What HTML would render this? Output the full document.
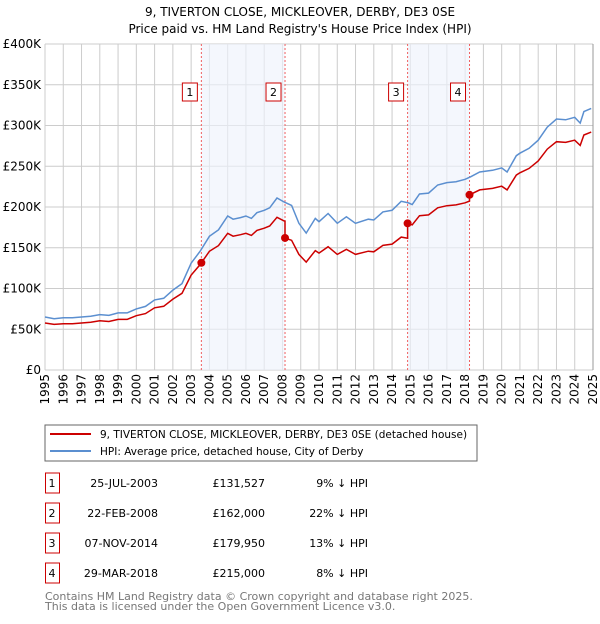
<!DOCTYPE html>
<html><head><meta charset="utf-8"><style>
body{margin:0;background:#fff;font-family:"DejaVu Sans","Liberation Sans",sans-serif;}
svg text{font-family:"DejaVu Sans","Liberation Sans",sans-serif;}
</style></head><body>
<svg id="c" width="600" height="620" viewBox="0 0 600 620" xmlns="http://www.w3.org/2000/svg">
<text x="300" y="16" text-anchor="middle" font-size="12" fill="#000">9, TIVERTON CLOSE, MICKLEOVER, DERBY, DE3 0SE</text>
<text x="300" y="33" text-anchor="middle" font-size="12" fill="#000">Price paid vs. HM Land Registry's House Price Index (HPI)</text>
<g id="grid"></g><g id="shade"></g><g id="lines"></g><g id="marks"></g><g id="axes"></g>
<rect x="45" y="425" width="432" height="36" fill="#fff" stroke="#666"/>
<line x1="50" y1="434" x2="91" y2="434" stroke="#cc0000" stroke-width="2"/>
<text x="100" y="438" font-size="10.5">9, TIVERTON CLOSE, MICKLEOVER, DERBY, DE3 0SE (detached house)</text>
<line x1="50" y1="451" x2="91" y2="451" stroke="#5b8fd0" stroke-width="2"/>
<text x="100" y="455" font-size="10.5">HPI: Average price, detached house, City of Derby</text>
<g id="table"></g>
<text x="45" y="600" font-size="11" fill="#777">Contains HM Land Registry data © Crown copyright and database right 2025.</text>
<text x="45" y="610" font-size="11" fill="#777">This data is licensed under the Open Government Licence v3.0.</text>
</svg>
<script>
const hpiYears=[1995,1995.5,1996,1996.5,1997,1997.5,1998,1998.5,1999,1999.5,2000,2000.5,2001,2001.5,2002,2002.5,2003,2003.5,2004,2004.5,2005,2005.3,2005.7,2006,2006.3,2006.6,2007,2007.3,2007.7,2008.1,2008.5,2008.9,2009.3,2009.8,2010,2010.5,2011,2011.5,2012,2012.7,2013,2013.5,2014,2014.5,2014.9,2015.1,2015.5,2016,2016.5,2017,2017.5,2018,2018.3,2018.8,2019.5,2020,2020.3,2020.8,2021,2021.5,2022,2022.5,2023,2023.5,2024,2024.3,2024.5,2024.9];
const hpiValues=[65,63,64,64,65,66,68,67,70,70,75,78,86,88,98,106,131,146,164,172,189,185,187,189,186,193,196,199,211,206,202,180,168,186,182,192,180,188,180,185,184,194,196,207,205,203,216,217,227,230,231,234,237,243,245,248,243,263,266,272,282,298,308,307,310,303,317,321];
const saleLabels=["1","2","3","4"];
const saleDates=["25-JUL-2003","22-FEB-2008","07-NOV-2014","29-MAR-2018"];
const saleYears=[2003.56,2008.14,2014.85,2018.24];
const salePrices=[131527,162000,179950,215000];
const saleDiffs=["9% \u2193 HPI","22% \u2193 HPI","13% \u2193 HPI","8% \u2193 HPI"];
const yTicks=[0,50,100,150,200,250,300,350,400];
const yTickLabels=["£0","£50K","£100K","£150K","£200K","£250K","£300K","£350K","£400K"];
const xTicks=[1995,1996,1997,1998,1999,2000,2001,2002,2003,2004,2005,2006,2007,2008,2009,2010,2011,2012,2013,2014,2015,2016,2017,2018,2019,2020,2021,2022,2023,2024,2025];

const NS="http://www.w3.org/2000/svg";
const X0=45,X1=593,Y0=370,Y1=44;
const xs=y=>X0+(y-1995)/(2025-1995)*(X1-X0);
const ys=v=>Y0-v/400*(Y0-Y1);
function mk(t,a,p){const e=document.createElementNS(NS,t);for(const k in a)e.setAttribute(k,a[k]);p.appendChild(e);return e;}
const G=id=>document.getElementById(id);
function hpiAt(y){for(let i=0;i<hpiYears.length-1;i++){if(y<=hpiYears[i+1]){const t=(y-hpiYears[i])/(hpiYears[i+1]-hpiYears[i]);return hpiValues[i]+t*(hpiValues[i+1]-hpiValues[i]);}}return hpiValues[hpiValues.length-1];}

xTicks.forEach(t=>{const l=mk('line',{x1:xs(t),x2:xs(t),y1:Y1,y2:Y0,stroke:'#ccc','stroke-width':1},G('grid'));

});
yTicks.forEach((t,i)=>{const l=mk('line',{x1:X0,x2:X1,y1:ys(t),y2:ys(t),stroke:'#ccc','stroke-width':1},G('grid'));


const tx=mk('text',{x:X0-4,y:ys(t)+4,'text-anchor':'end','font-size':12},G('axes'));tx.textContent=yTickLabels[i];

});
xTicks.forEach(t=>{const tx=mk('text',{x:0,y:0,'text-anchor':'end','font-size':12,transform:`translate(${xs(t)+4},${Y0+4}) rotate(-90)`},G('axes'));tx.textContent=t;

});

[[0,1],[2,3]].forEach(p=>{const r=mk('rect',{x:xs(saleYears[p[0]]),y:Y1,width:xs(saleYears[p[1]])-xs(saleYears[p[0]]),height:Y0-Y1,fill:'#eef3fc',opacity:0.65},G('shade'));

});
saleYears.forEach((y,i)=>{const l=mk('line',{x1:xs(y),x2:xs(y),y1:Y1,y2:Y0,stroke:'#f06060','stroke-width':1,'stroke-dasharray':'2,2'},G('shade'));


const r=mk('rect',{x:xs(y)-19,y:83,width:15,height:18,fill:'#fff',stroke:'#cc0000'},G('shade'));


const t=mk('text',{x:xs(y)-11.5,y:96,'text-anchor':'middle','font-size':11},G('shade'));t.textContent=saleLabels[i];

});

const hp=hpiYears.map((y,i)=>xs(y).toFixed(1)+','+ys(hpiValues[i]).toFixed(1)).join(' ');
const hl=mk('polyline',{points:hp,fill:'none',stroke:'#5b8fd0','stroke-width':1.5},G('lines'));


const ratios=saleYears.map((y,i)=>salePrices[i]/1000/hpiAt(y));
const pts=[];
hpiYears.forEach((y,i)=>{
  let k=0;for(let j=0;j<saleYears.length;j++)if(y>=saleYears[j])k=j;
  pts.push([y,hpiValues[i]*ratios[k]]);
});
saleYears.forEach((y,j)=>{if(j>0)pts.push([y-0.001,hpiAt(y)*ratios[j-1]]);pts.push([y,salePrices[j]/1000]);});
pts.sort((a,b)=>a[0]-b[0]);
const rl=mk('polyline',{points:pts.map(p=>xs(p[0]).toFixed(1)+','+ys(p[1]).toFixed(1)).join(' '),fill:'none',stroke:'#cc0000','stroke-width':1.5},G('lines'));


saleYears.forEach((y,i)=>{const c=mk('circle',{cx:xs(y),cy:ys(salePrices[i]/1000),r:4,fill:'#cc0000'},G('marks'));

});
mk('line',{x1:X1,x2:X1,y1:Y1,y2:Y0,stroke:'#999'},G('axes'));

saleLabels.forEach((l,i)=>{const cy=483+i*30;const tb=G('table');
const r=mk('rect',{x:45.5,y:cy-10,width:14,height:20,fill:'#fff',stroke:'#cc0000'},tb);


const cells=[[52,'middle',l,'table-number'],[158,'end',saleDates[i],'table-date'],[265,'end','£'+salePrices[i].toLocaleString('en-GB'),'table-price'],[368,'end',saleDiffs[i],'table-hpi-diff']];
cells.forEach(c=>{const t=mk('text',{x:c[0],y:cy+4,'text-anchor':c[1],'font-size':11},tb);t.textContent=c[2];

});});
</script>
</body></html>
